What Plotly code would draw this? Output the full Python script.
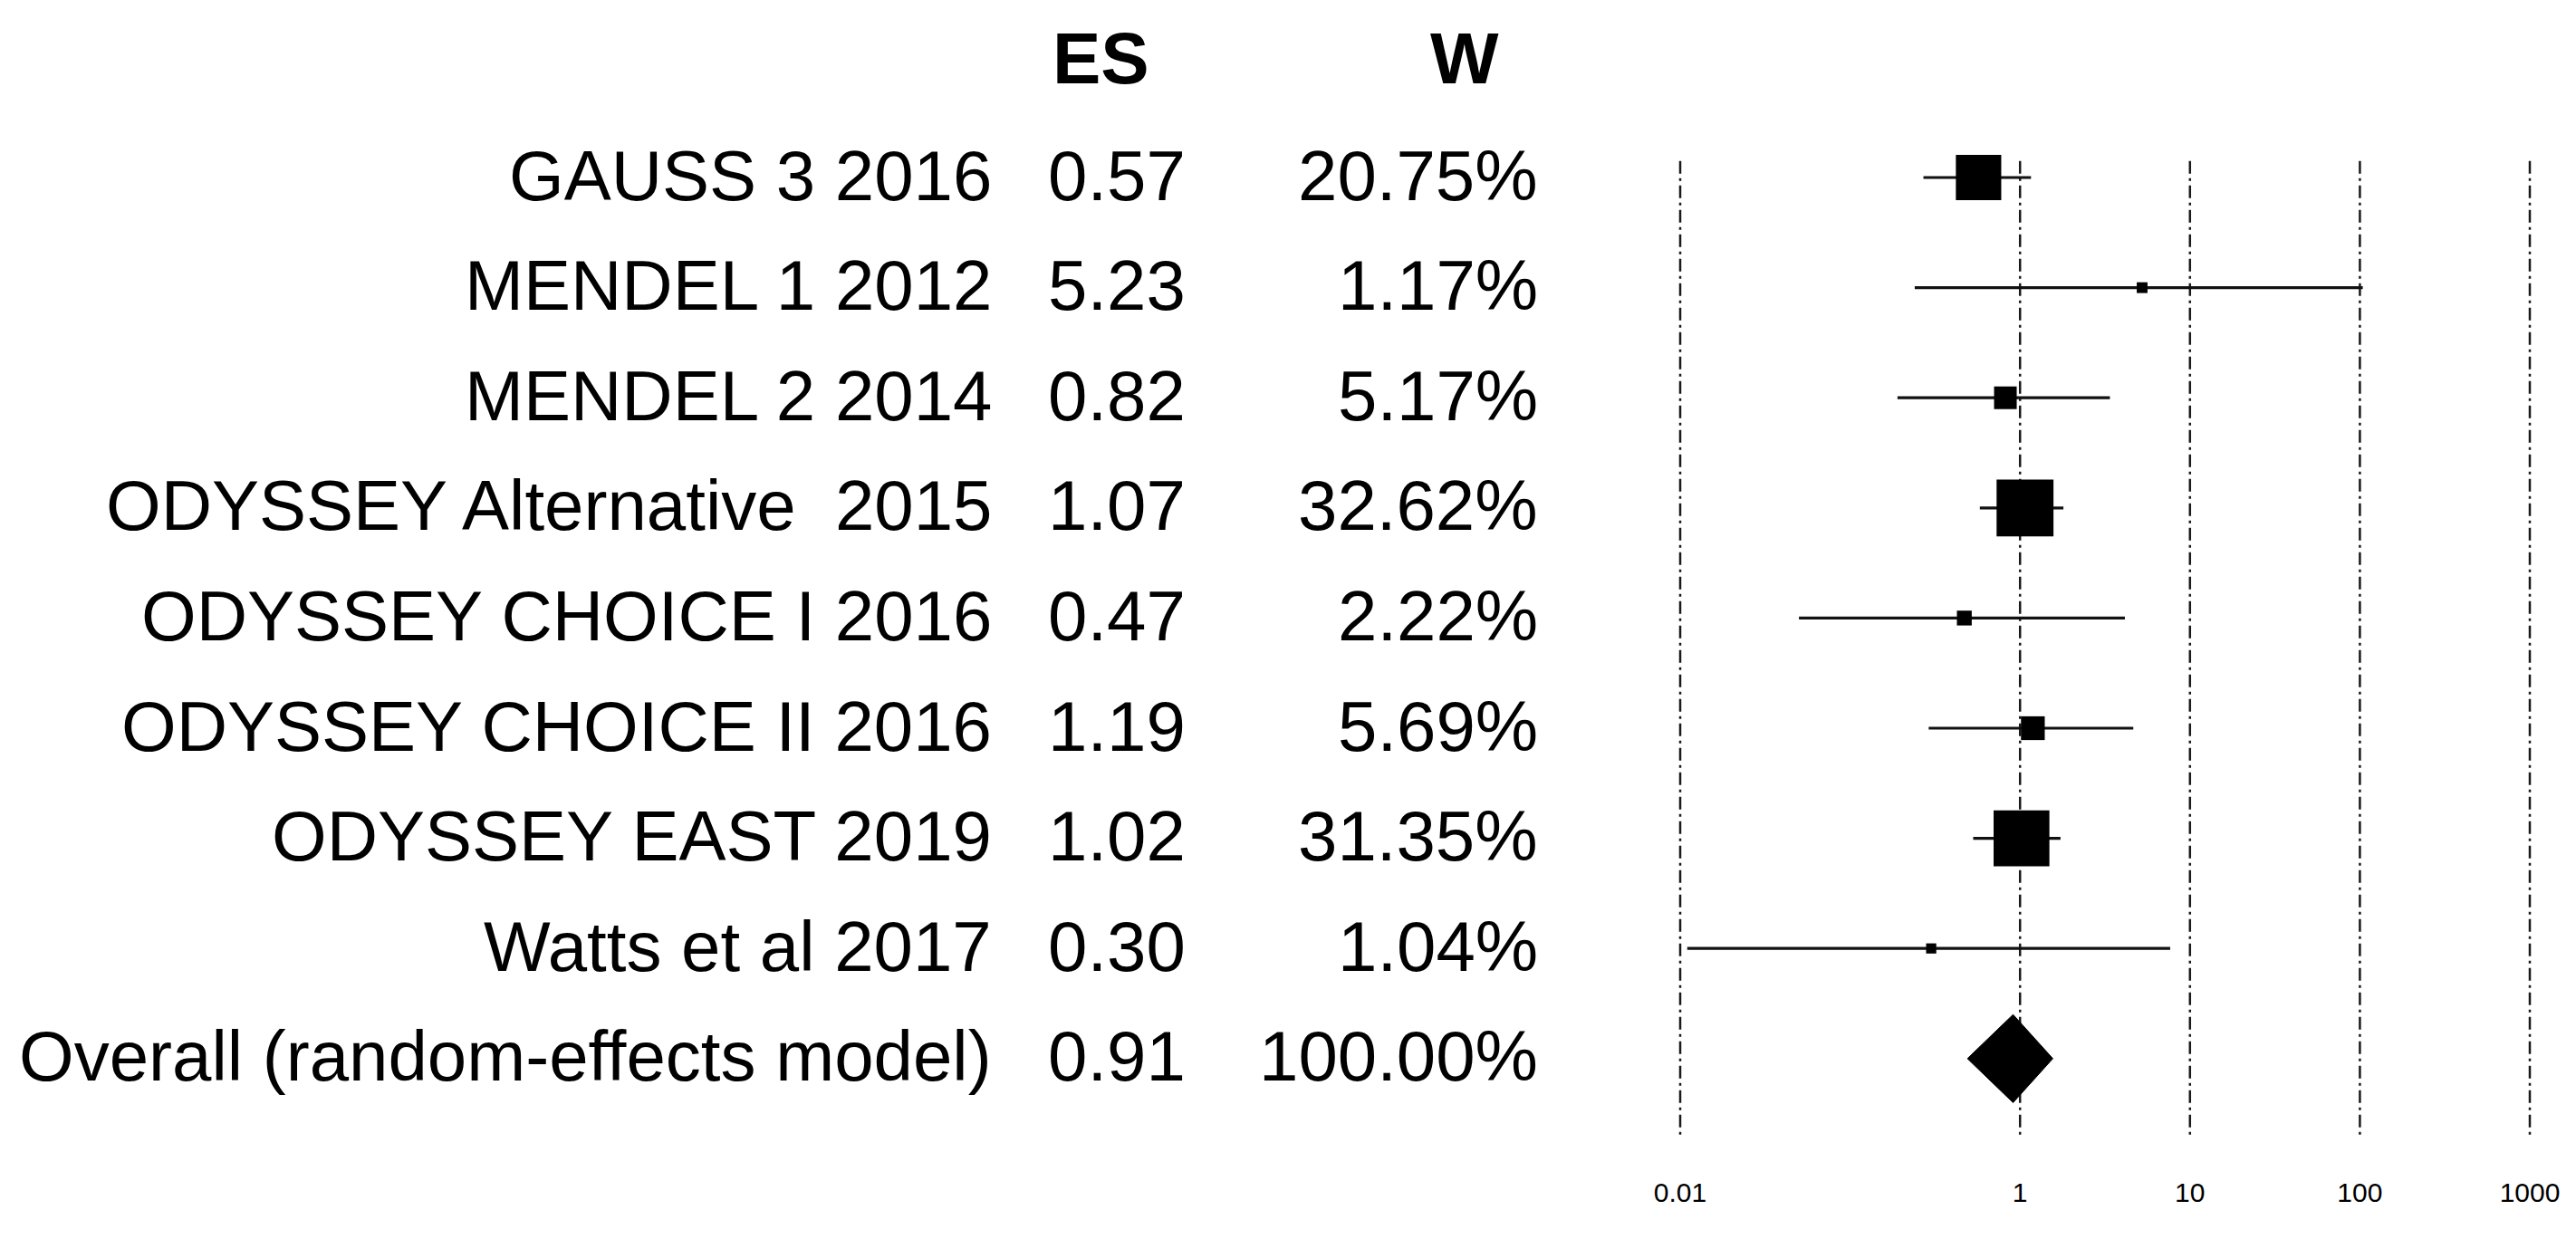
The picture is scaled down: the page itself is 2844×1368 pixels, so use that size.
import plotly.graph_objects as go
import math

# ---------------- data ----------------
studies = ["GAUSS 3 2016", "MENDEL 1 2012", "MENDEL 2 2014",
           "ODYSSEY Alternative\u00a0 2015", "ODYSSEY CHOICE I 2016",
           "ODYSSEY CHOICE II 2016", "ODYSSEY EAST 2019", "Watts et al 2017"]
es = [0.57, 5.23, 0.82, 1.07, 0.47, 1.19, 1.02, 0.30]
weights = [20.75, 1.17, 5.17, 32.62, 2.22, 5.69, 31.35, 1.04]
ci_lo = [0.27, 0.24, 0.19, 0.58, 0.05, 0.29, 0.53, 0.011]
ci_hi = [1.16, 104.0, 3.38, 1.80, 4.14, 4.64, 1.73, 7.65]

overall_label = "Overall (random-effects model)"
overall_es = 0.91
overall_lo = 0.49
overall_hi = 1.56
overall_w = 100.00

es_text = ["0.57", "5.23", "0.82", "1.07", "0.47", "1.19", "1.02", "0.30"]
w_text = ["20.75%", "1.17%", "5.17%", "32.62%", "2.22%", "5.69%", "31.35%", "1.04%"]
overall_es_text = "0.91"
overall_w_text = "100.00%"

tick_vals = [0.01, 1, 10, 100, 1000]
tick_text = ["0.01", "1", "10", "100", "1000"]

# ---------------- layout constants ----------------
OFF = 8                      # default body margin of the html page
W, H = 2844 - OFF, 1368 - OFF
FONT = "Liberation Sans, Arial, Helvetica, sans-serif"
TICK_FONT = "Liberation Sans Narrow, Arial Narrow, Liberation Sans, sans-serif"
MAIN_SIZE = 78
LINE_COL = "#111111"

rows = list(range(len(studies)))
overall_row = len(studies)

fig = go.Figure()

# vertical reference lines (dash-dot)
for tv in tick_vals:
    fig.add_trace(go.Scatter(
        x=[tv, tv], y=[-0.15, 8.69], mode="lines",
        line=dict(color="#1a1a1a", width=2.5, dash="14px,5px,3px,5px"),
        hoverinfo="skip", showlegend=False))

# confidence intervals
for i in rows:
    fig.add_trace(go.Scatter(
        x=[ci_lo[i], ci_hi[i]], y=[i, i], mode="lines",
        line=dict(color=LINE_COL, width=3.2),
        hoverinfo="skip", showlegend=False))

# weighted square markers
fig.add_trace(go.Scatter(
    x=es, y=rows, mode="markers",
    marker=dict(symbol="square", color="black", opacity=1,
                size=[11.0 * math.sqrt(w) for w in weights],
                line=dict(width=0)),
    hoverinfo="skip", showlegend=False))

# overall diamond
dh = 0.40
fig.add_trace(go.Scatter(
    x=[overall_lo, overall_es, overall_hi, overall_es, overall_lo],
    y=[overall_row, overall_row - dh, overall_row, overall_row + dh, overall_row],
    mode="lines", fill="toself", fillcolor="black",
    line=dict(color="black", width=1),
    hoverinfo="skip", showlegend=False))

# ---------------- text columns ----------------
label_x = (1097 - OFF) / W
es_x = (1311 - OFF) / W
w_x = (1700 - OFF) / W

annotations = []
all_labels = studies + [overall_label]
all_es = es_text + [overall_es_text]
all_w = w_text + [overall_w_text]
for i, (lab, e, wt) in enumerate(zip(all_labels, all_es, all_w)):
    for xx, txt in ((label_x, lab), (es_x, e), (w_x, wt)):
        annotations.append(dict(x=xx, y=i - 0.02, xref="paper", yref="y", text=txt,
                                xanchor="right", yanchor="middle", showarrow=False,
                                font=dict(family=FONT, size=MAIN_SIZE, color="black")))

annotations.append(dict(x=(1215 - OFF) / W, y=-1.08, xref="paper", yref="y", text="<b>ES</b>",
                        xanchor="center", yanchor="middle", showarrow=False,
                        font=dict(family=FONT, size=80, color="black")))
annotations.append(dict(x=(1617 - OFF) / W, y=-1.08, xref="paper", yref="y", text="<b>W</b>",
                        xanchor="center", yanchor="middle", showarrow=False,
                        font=dict(family=FONT, size=80, color="black")))

# ---------------- axes ----------------
px_dec = 187.6
x0_px = 1855 - OFF
x_left_px = x0_px - 0.1 * px_dec
x_right_px = x0_px + 5.1 * px_dec
plot_h = 1288
row0 = 196 - OFF
row_step = 121.6

fig.update_layout(
    width=W, height=H,
    margin=dict(l=0, r=0, t=0, b=H - plot_h, pad=0),
    paper_bgcolor="white", plot_bgcolor="white",
    showlegend=False,
    annotations=annotations,
    xaxis=dict(type="log", range=[-2.1, 3.1],
               domain=[x_left_px / W, x_right_px / W],
               tickvals=tick_vals, ticktext=tick_text,
               showgrid=False, zeroline=False, showline=False, ticks="",
               tickfont=dict(family=TICK_FONT, size=30, color="black"),
               automargin=False, fixedrange=True),
    yaxis=dict(range=[(plot_h - row0) / row_step, -row0 / row_step],
               showgrid=False, zeroline=False, showline=False,
               showticklabels=False, ticks="", automargin=False, fixedrange=True),
)

fig.write_html("out.html")
